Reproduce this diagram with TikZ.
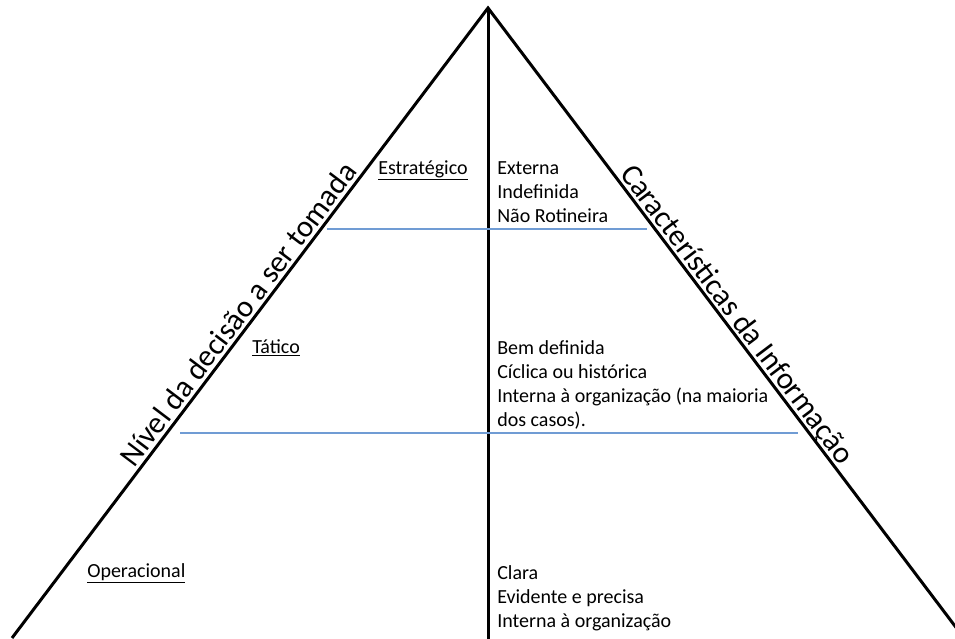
\documentclass[tikz,border=0pt]{standalone}
\usepackage{fontspec}
\setmainfont{Carlito}
\usetikzlibrary{positioning}
\definecolor{pyblue}{RGB}{112,156,212}

\begin{document}
\begin{tikzpicture}[
  x=0.75pt,y=-0.75pt,
  side/.style={line width=2.25pt,line join=miter},
  divider/.style={draw=pyblue,line width=0.8pt},
  level/.style={font=\fontsize{15}{18}\selectfont,inner sep=0pt,anchor=base west},
  info/.style={font=\fontsize{15}{18}\selectfont,inner sep=0pt,anchor=base west,align=left},
  axislabel/.style={font=\fontsize{23}{28}\selectfont,sloped,above,text depth=0pt,inner sep=3.2pt}
]
  \useasboundingbox (0,0) rectangle (955,638);
  \clip (0,0) rectangle (955,638);

  % pyramid
  \coordinate (apex) at (488,8);
  \coordinate (bl) at (12,638);
  \coordinate (br) at (964,638);
  \coordinate (bm) at (488,640);
  \draw[side] (bl) -- (apex) -- (br);
  \draw[side] (apex) -- (bm);

  % level dividers
  \coordinate (d1l) at (327,229);
  \coordinate (d1r) at (647,229);
  \coordinate (d2l) at (180,433);
  \coordinate (d2r) at (798,433);
  \draw[divider] (d1l) -- (d1r);
  \draw[divider] (d2l) -- (d2r);

  % side titles
  \path (bl) -- node[axislabel,pos=0.5] (nivel) {Nível da decisão a ser tomada} (apex);
  \path (apex) -- node[axislabel,pos=0.5] (carac) {Características da Informação} (br);

  % levels
  \node[level] (estr) at (378,174) {\underline{Estratégico}};
  \node[level] (tat)  at (252,353) {\underline{Tático}};
  \node[level] (oper) at (87,577)  {\underline{Operacional}};

  % information per level (base = last line)
  \node[info] (iestr) at (497,222) {Externa\\Indefinida\\Não Rotineira};
  \node[info] (itat)  at (497,426) {Bem definida\\Cíclica ou histórica\\Interna à organização (na maioria\\dos casos).};
  \node[info] (ioper) at (497,627) {Clara\\Evidente e precisa\\Interna à organização};
\end{tikzpicture}
\end{document}
